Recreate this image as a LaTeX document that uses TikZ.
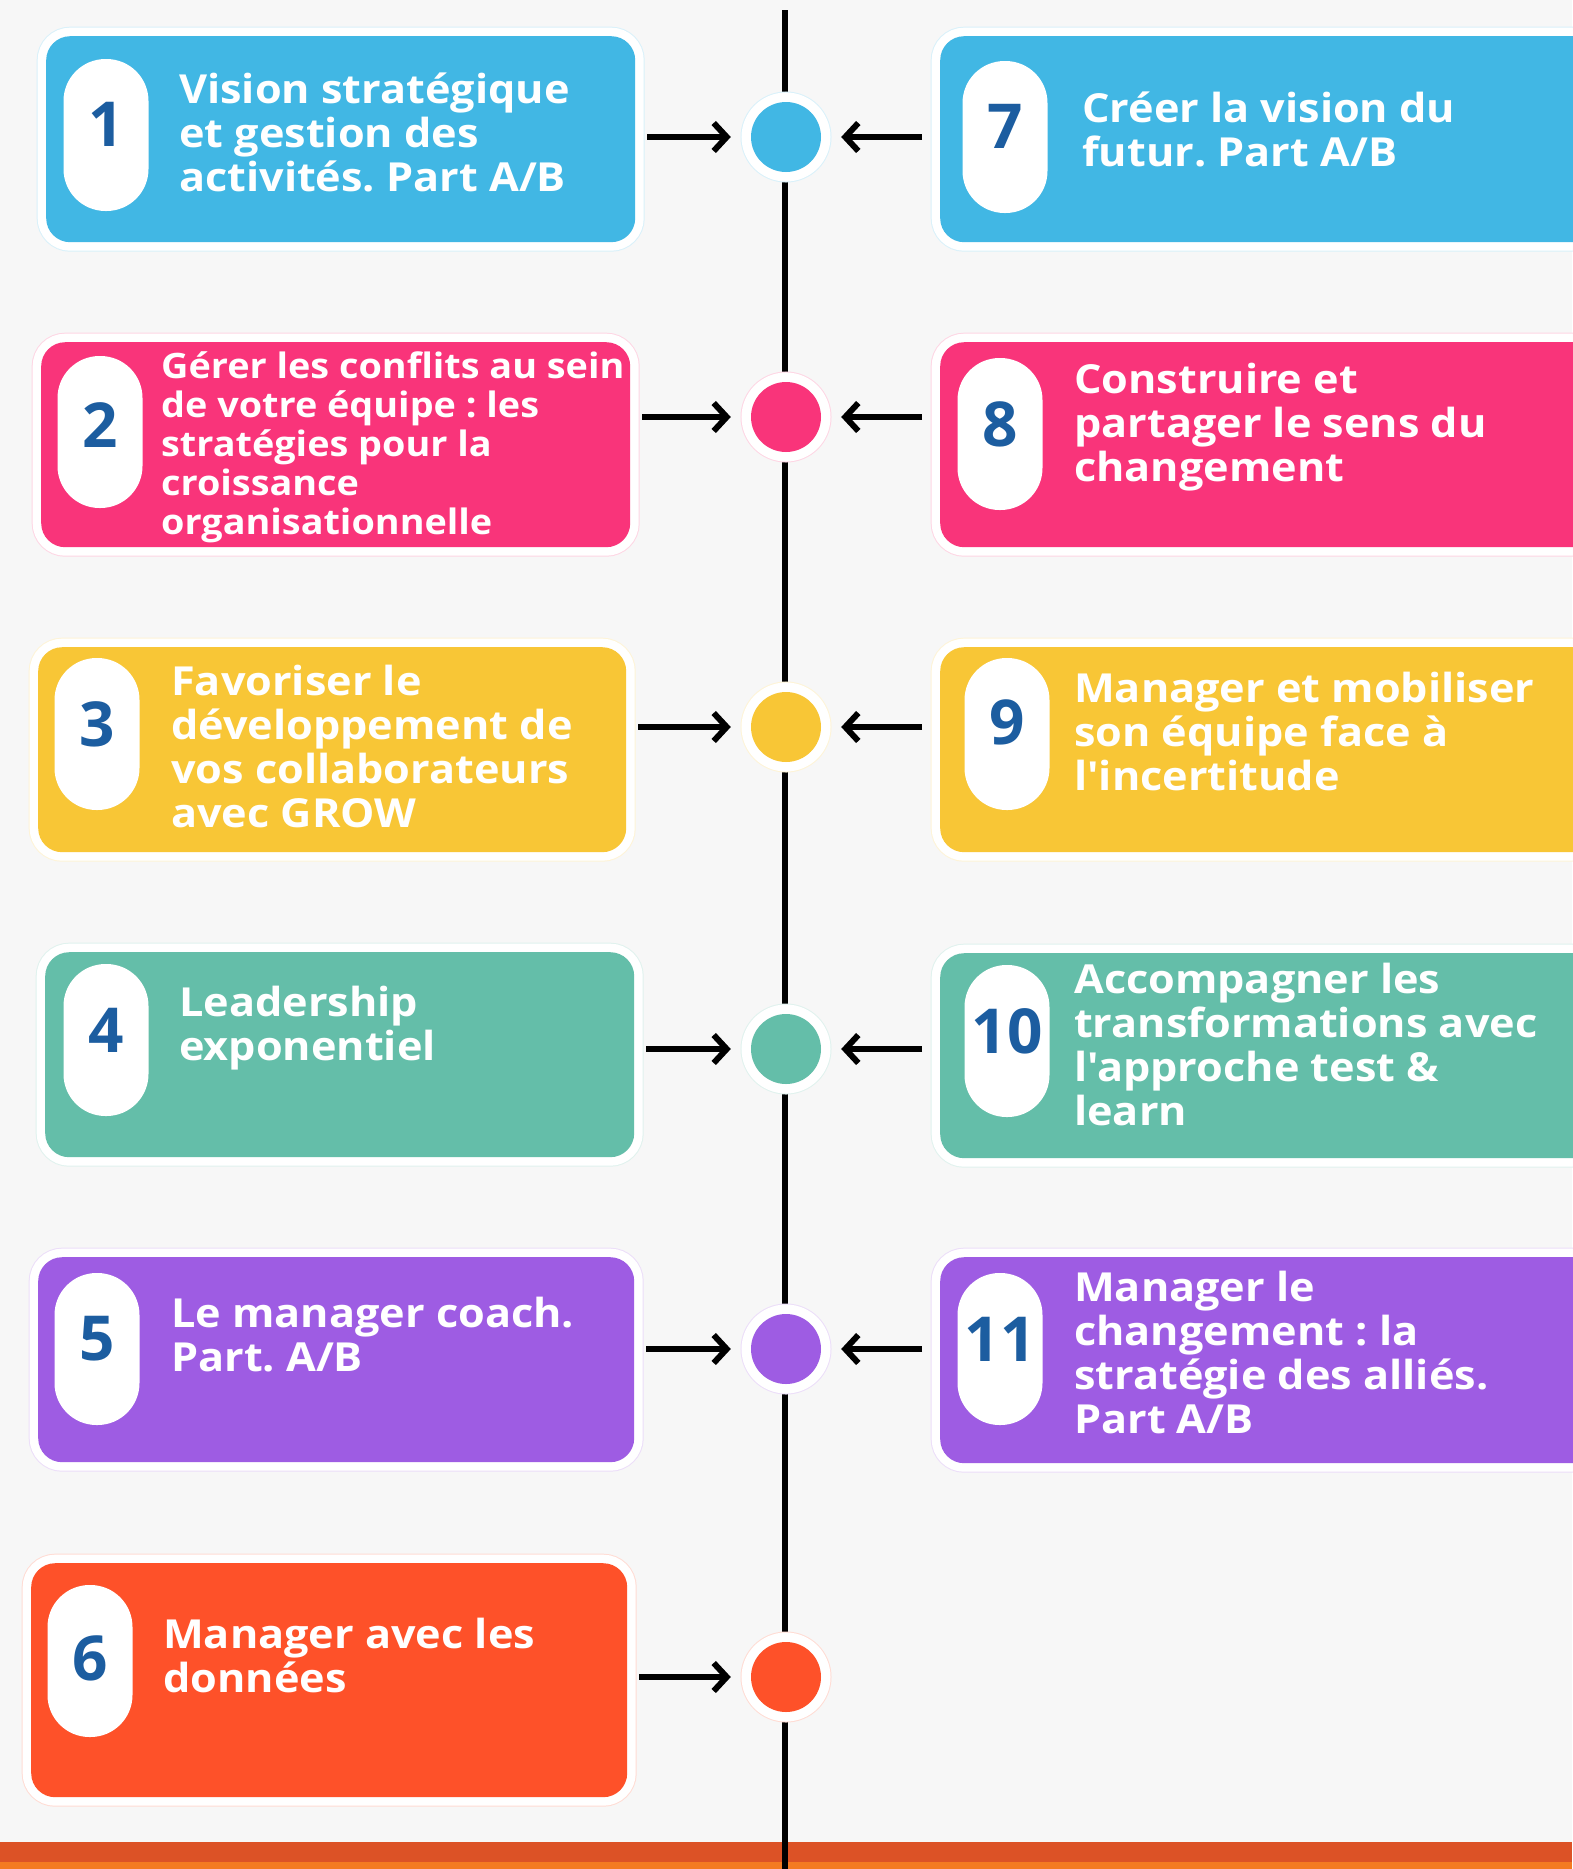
\documentclass[tikz,border=0pt]{standalone}
\usepackage{fontspec}
\setmainfont{Open Sans}
\newfontfamily\cardfont[FakeStretch=1.08]{Open Sans}
\usepackage{tikz}
\usetikzlibrary{arrows.meta}
\frenchspacing

\definecolor{bgcol}{HTML}{F7F7F7}
\definecolor{cblue}{HTML}{41B7E4}
\definecolor{cpink}{HTML}{F9347A}
\definecolor{cyellow}{HTML}{F8C636}
\definecolor{cteal}{HTML}{64BEA9}
\definecolor{cpurple}{HTML}{9E5CE3}
\definecolor{cred}{HTML}{FE5129}
\definecolor{numblue}{HTML}{1C5DA0}
\definecolor{bardark}{HTML}{DC5226}
\definecolor{barlight}{HTML}{F47A21}

\newcommand\apos{\char"0027\relax}

\tikzset{
  card/.style={rectangle, anchor=north west, rounded corners=24pt, fill=#1, inner sep=0pt,
    preaction={draw=#1!20, line width=19pt}, preaction={draw=white, line width=17pt}},
  pill/.style={rectangle, rounded corners=42pt, fill=white, minimum width=85pt,
    minimum height=152pt, inner sep=0pt},
  num/.style={text=numblue, inner sep=0pt, font=\fontsize{62}{62}\selectfont\bfseries},
  cardtext/.style={text=white, align=left, anchor=base west, inner sep=0pt,
    font=\cardfont\fontsize{40}{44}\selectfont\bfseries},
  dot/.style={circle, fill=#1, minimum size=70pt, inner sep=0pt,
    preaction={draw=#1!20, line width=21pt}, preaction={draw=white, line width=19pt}},
  spine/.style={line width=6pt, black},
  link/.style={line width=6pt, -{Straight Barb[length=13pt,width=28pt]},
    shorten <=12pt, shorten >=20pt}
}

\begin{document}
\begin{tikzpicture}[x=1pt,y=-1pt]
\useasboundingbox (0,0) rectangle (1572,1869);
\fill[bgcol] (0,0) rectangle (1572,1869);
% bottom band
\fill[bardark] (0,1842) rectangle (1572,1862);
\fill[barlight] (0,1862) rectangle (1572,1869);

% timeline
\coordinate (top) at (785,10);
\coordinate (bottom) at (785,1869);
\draw[spine] (top) -- (bottom);

% left cards
\node[card=cblue, minimum width=589pt, minimum height=206pt] (c1) at (46,36) {};
\node[card=cpink, minimum width=589pt, minimum height=205pt] (c2) at (41,342) {};
\node[card=cyellow, minimum width=588pt, minimum height=205pt] (c3) at (38,647) {};
\node[card=cteal, minimum width=589pt, minimum height=205pt] (c4) at (45,952) {};
\node[card=cpurple, minimum width=596pt, minimum height=205pt] (c5) at (38,1257) {};
\node[card=cred, minimum width=596pt, minimum height=234pt] (c6) at (31,1563) {};
% right cards
\node[card=cblue, minimum width=660pt, minimum height=206pt] (c7) at (940,36) {};
\node[card=cpink, minimum width=660pt, minimum height=205pt] (c8) at (940,342) {};
\node[card=cyellow, minimum width=660pt, minimum height=205pt] (c9) at (940,647) {};
\node[card=cteal, minimum width=660pt, minimum height=205pt] (c10) at (940,953) {};
\node[card=cpurple, minimum width=660pt, minimum height=206pt] (c11) at (940,1257) {};

% number pills
\node[pill] (p1) at (106,135) {};
\node[pill] (p2) at (100,432) {};
\node[pill] (p3) at (97,734) {};
\node[pill] (p4) at (106,1040) {};
\node[pill] (p5) at (97,1349) {};
\node[pill] (p6) at (90,1661) {};
\node[pill] (p7) at (1005,137) {};
\node[pill] (p8) at (1000,434) {};
\node[pill] (p9) at (1007,734) {};
\node[pill] (p10) at (1007,1041) {};
\node[pill] (p11) at (1000,1349) {};
\node[num] at ([yshift=11pt]p1) {1};
\node[num] at ([yshift=7pt]p2) {2};
\node[num] at ([yshift=10pt]p3) {3};
\node[num] at ([yshift=10pt]p4) {4};
\node[num] at ([yshift=10pt]p5) {5};
\node[num] at ([yshift=3pt]p6) {6};
\node[num] at ([yshift=11pt]p7) {7};
\node[num] at ([yshift=10pt]p8) {8};
\node[num] at ([yshift=12pt]p9) {9};
\node[num] at ([yshift=10pt]p10) {10};
\node[num] at ([yshift=10pt]p11) {11};

% texts (placed at the baseline of their last line)
\node[cardtext] (t1) at (179,191) {Vision stratégique\\et gestion des\\activités. Part A/B};
\node[cardtext, font=\cardfont\fontsize{35}{39}\selectfont\bfseries] (t2) at (161,534)
  {Gérer les conflits au sein\\de votre équipe : les\\stratégies pour la\\croissance\\organisationnelle};
\node[cardtext] (t3) at (171,827) {Favoriser le\\développement de\\vos collaborateurs\\avec GROW};
\node[cardtext] (t4) at (179,1060) {Leadership\\exponentiel};
\node[cardtext] (t5) at (171,1371) {Le manager coach.\\Part. A/B};
\node[cardtext] (t6) at (163,1692) {Manager avec les\\données};
\node[cardtext] (t7) at (1082,166) {Créer la vision du\\futur. Part A/B};
\node[cardtext] (t8) at (1074,481) {Construire et\\partager le sens du\\changement};
\node[cardtext] (t9) at (1074,790) {Manager et mobiliser\\son équipe face à\\l\apos incertitude};
\node[cardtext] (t10) at (1074,1125) {Accompagner les\\transformations avec\\l\apos approche test \&\\learn};
\node[cardtext] (t11) at (1074,1433) {Manager le\\changement : la\\stratégie des alliés.\\Part A/B};

% dots on the timeline
\node[dot=cblue] (d1) at (786,137) {};
\node[dot=cpink] (d2) at (786,417) {};
\node[dot=cyellow] (d3) at (786,727) {};
\node[dot=cteal] (d4) at (786,1049) {};
\node[dot=cpurple] (d5) at (786,1349) {};
\node[dot=cred] (d6) at (786,1677) {};

% arrows
\draw[link] (c1.east |- d1) -- (d1);
\draw[link] (c2.east |- d2) -- (d2);
\draw[link] (c3.east |- d3) -- (d3);
\draw[link] (c4.east |- d4) -- (d4);
\draw[link] (c5.east |- d5) -- (d5);
\draw[link] (c6.east |- d6) -- (d6);
\draw[link, shorten <=18pt] (c7.west |- d1) -- (d1);
\draw[link, shorten <=18pt] (c8.west |- d2) -- (d2);
\draw[link, shorten <=18pt] (c9.west |- d3) -- (d3);
\draw[link, shorten <=18pt] (c10.west |- d4) -- (d4);
\draw[link, shorten <=18pt] (c11.west |- d5) -- (d5);
\end{tikzpicture}
\end{document}
